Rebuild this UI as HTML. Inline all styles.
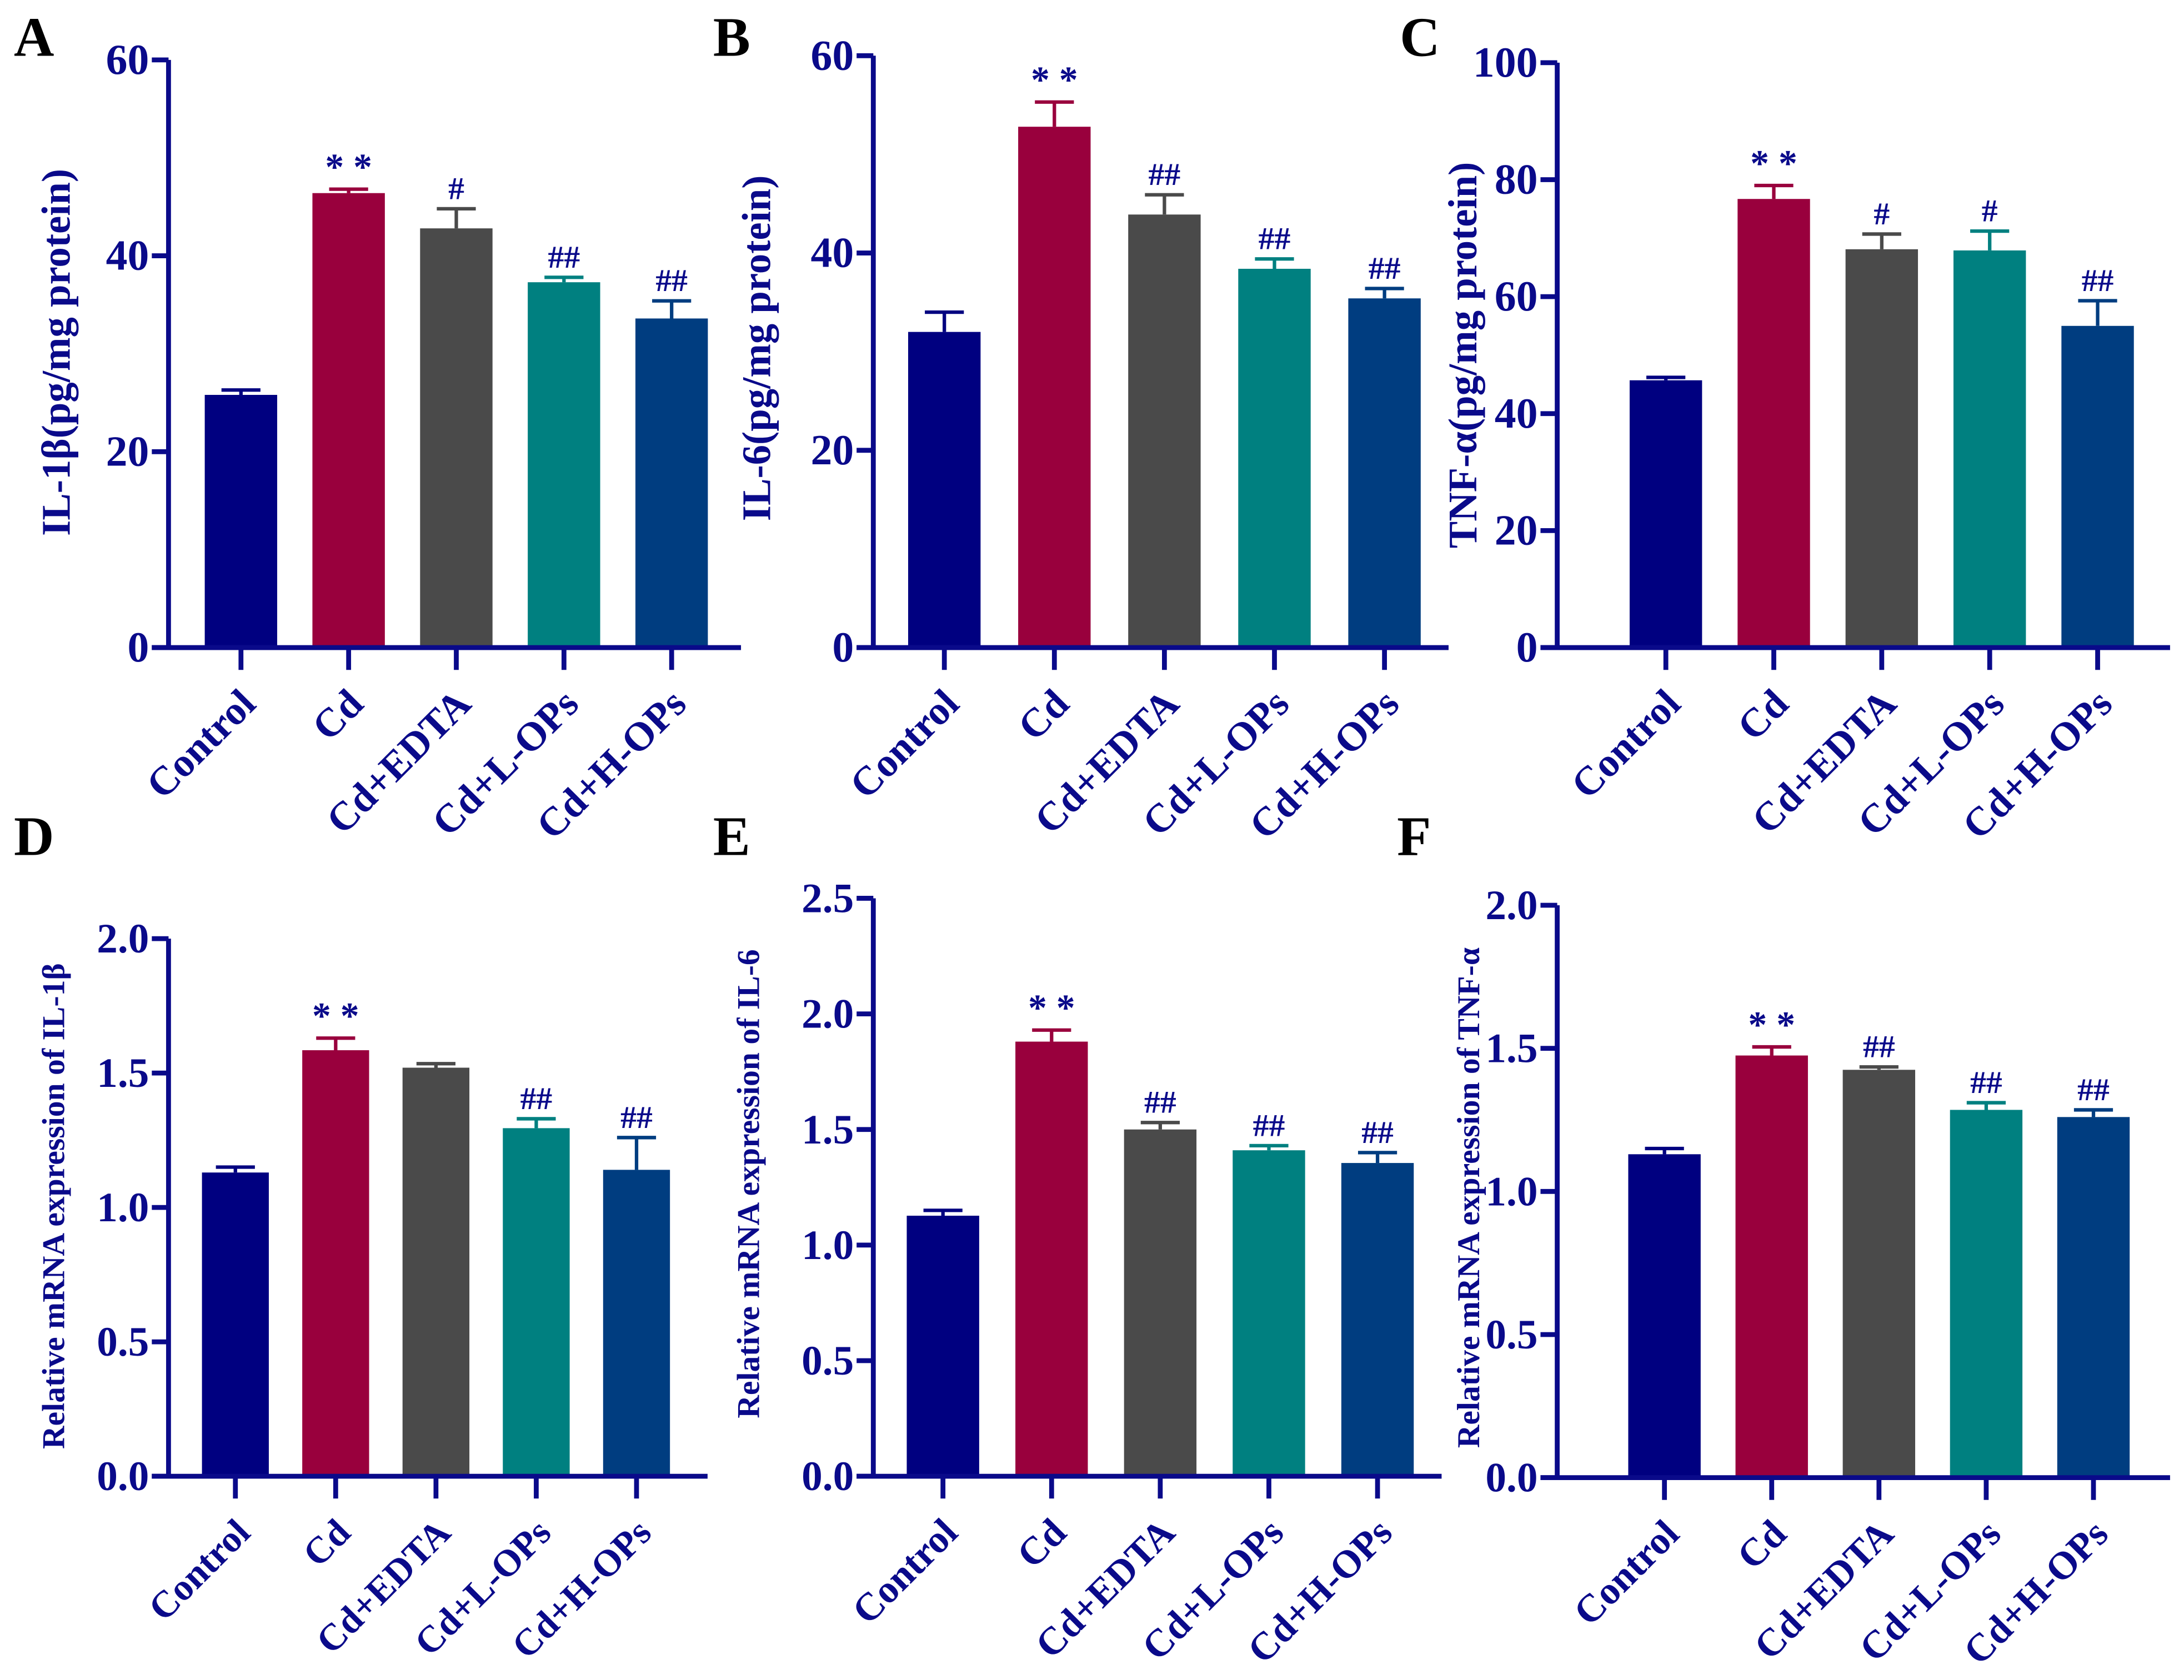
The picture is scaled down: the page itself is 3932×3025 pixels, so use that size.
<!DOCTYPE html>
<html><head><meta charset="utf-8"><style>
html,body{margin:0;padding:0;background:#fff;}
svg{display:block;}
text{font-family:"Liberation Serif",serif;font-weight:bold;}
</style></head><body>
<svg id="fig" width="3932" height="3025" viewBox="0 0 1568 1206.3" preserveAspectRatio="none" xmlns="http://www.w3.org/2000/svg"></svg>
<script>
const categories = ["Control","Cd","Cd+EDTA","Cd+L-OPs","Cd+H-OPs"];
const colors = ["#000080","#99003d","#4a4a4a","#008080","#003d80"];
const valuesA = [25.8, 46.4, 42.8, 37.3, 33.6];
const errorsA = [0.5, 0.4, 2.0, 0.5, 1.8];
const marksA = ["", "**", "#", "##", "##"];
const ticksA = [0, 20, 40, 60];
const valuesB = [32.0, 52.8, 43.9, 38.4, 35.4];
const errorsB = [2.0, 2.5, 2.0, 1.0, 1.0];
const marksB = ["", "**", "##", "##", "##"];
const ticksB = [0, 20, 40, 60];
const valuesC = [45.7, 76.7, 68.1, 67.9, 55.0];
const errorsC = [0.5, 2.3, 2.6, 3.3, 4.3];
const marksC = ["", "**", "#", "#", "##"];
const ticksC = [0, 20, 40, 60, 80, 100];
const valuesD = [1.13, 1.585, 1.52, 1.295, 1.14];
const errorsD = [0.02, 0.045, 0.015, 0.035, 0.12];
const marksD = ["", "**", "", "##", "##"];
const ticksD = ["0.0","0.5","1.0","1.5","2.0"];
const valuesE = [1.127, 1.88, 1.50, 1.41, 1.355];
const errorsE = [0.023, 0.05, 0.03, 0.02, 0.045];
const marksE = ["", "**", "##", "##", "##"];
const ticksE = ["0.0","0.5","1.0","1.5","2.0","2.5"];
const valuesF = [1.13, 1.475, 1.425, 1.285, 1.26];
const errorsF = [0.02, 0.03, 0.01, 0.025, 0.025];
const marksF = ["", "**", "##", "##", "##"];
const ticksF = ["0.0","0.5","1.0","1.5","2.0"];

const NS = "http://www.w3.org/2000/svg";
const svg = document.getElementById("fig");
const AX = "#0a0a8a";
function mk(tag, attrs, parent){const e=document.createElementNS(NS,tag);for(const k in attrs)e.setAttribute(k,attrs[k]);(parent||svg).appendChild(e);return e;}

const panels = [
 {id:"a",letter:"A",lx:10,ly:40,ax:121,top:43,bot:465,xend:532,first:173,pitch:77.3,bw:52,ymax:60,ticks:ticksA,vals:valuesA,errs:errorsA,marks:marksA,title:"IL-1β(pg/mg protein)",tx:50,ty:253,tfs:29,fs:31,tl:29},
 {id:"b",letter:"B",lx:512,ly:40,ax:627,top:40,bot:465,xend:1040,first:678,pitch:79,bw:52,ymax:60,ticks:ticksB,vals:valuesB,errs:errorsB,marks:marksB,title:"IL-6(pg/mg protein)",tx:553,ty:250,tfs:29,fs:31,tl:29},
 {id:"c",letter:"C",lx:1005,ly:40,ax:1118,top:45,bot:465,xend:1558,first:1196,pitch:77.5,bw:52,ymax:100,ticks:ticksC,vals:valuesC,errs:errorsC,marks:marksC,title:"TNF-α(pg/mg protein)",tx:1060,ty:255,tfs:29,fs:31,tl:29},
 {id:"d",letter:"D",lx:10,ly:614,ax:121,top:674,bot:1060,xend:508,first:169,pitch:72,bw:48,ymax:2.0,ticks:ticksD,vals:valuesD,errs:errorsD,marks:marksD,title:"Relative mRNA expression of IL-1β",tx:46,ty:866,tfs:23,fs:30,tl:27},
 {id:"e",letter:"E",lx:512,ly:614,ax:627,top:645,bot:1060,xend:1035,first:677,pitch:78,bw:52,ymax:2.5,ticks:ticksE,vals:valuesE,errs:errorsE,marks:marksE,title:"Relative mRNA expression  of  IL-6",tx:545,ty:850,tfs:23,fs:30,tl:28},
 {id:"f",letter:"F",lx:1003,ly:614,ax:1118,top:650,bot:1061,xend:1558,first:1195,pitch:77,bw:52,ymax:2.0,ticks:ticksF,vals:valuesF,errs:errorsF,marks:marksF,title:"Relative mRNA expression of TNF-α",tx:1062,ty:860,tfs:23,fs:30,tl:28}
];

panels.forEach(p=>{
  const g = mk("g",{});
  
  
  const y = v => p.bot - (v/p.ymax)*(p.bot-p.top);
  const x = i => p.first + i*p.pitch;
  const L = mk("text",{x:p.lx,y:p.ly,"font-size":40,fill:"#000"},g); L.textContent=p.letter;
  
  
  p.vals.forEach((v,i)=>{
    const b = mk("rect",{x:x(i)-p.bw/2,y:y(v),width:p.bw,height:p.bot-y(v),fill:colors[i]},g);
    
    
    const ey = y(v+p.errs[i]);
    const eb = mk("path",{d:`M${x(i)} ${y(v)} V${ey} M${x(i)-14} ${ey} H${x(i)+14}`,stroke:colors[i],"stroke-width":2.5,fill:"none"},g);
    
    
    if(p.marks[i]){
      const m = mk("text",{x:x(i),y:ey-7,"font-size":p.marks[i]==="**"?27:23,"font-weight":"normal","text-anchor":"middle",fill:AX},g);
      m.textContent = p.marks[i]==="**" ? "* *" : p.marks[i];
      
      
    }
    const tk = mk("line",{x1:x(i),y1:p.bot,x2:x(i),y2:p.bot+16,stroke:AX,"stroke-width":3.5},g);
    
    
    const tl = mk("text",{x:0,y:0,"font-size":p.tl,"text-anchor":"end",fill:AX,transform:`translate(${x(i)+12},${p.bot+42}) rotate(-45)`},g);
    tl.textContent = categories[i];
    
    
  });
  const ya = mk("line",{x1:p.ax,y1:p.top,x2:p.ax,y2:p.bot+1.7,stroke:AX,"stroke-width":3.5},g);
  
  
  const xa = mk("line",{x1:p.ax-12,y1:p.bot,x2:p.xend,y2:p.bot,stroke:AX,"stroke-width":3.5},g);
  
  
  p.ticks.forEach(t=>{
    const v = parseFloat(t);
    const yt = mk("line",{x1:p.ax-12,y1:y(v),x2:p.ax,y2:y(v),stroke:AX,"stroke-width":3.5},g);
    
    
    const lb = mk("text",{x:p.ax-14,y:y(v)+10,"font-size":p.fs,"text-anchor":"end",fill:AX},g);
    lb.textContent = String(t);
    
    
  });
  const tt = mk("text",{x:0,y:0,"font-size":p.tfs,"text-anchor":"middle",fill:AX,transform:`translate(${p.tx},${p.ty}) rotate(-90)`},g);
  tt.textContent = p.title;
  
  
});
</script>
</body></html>
